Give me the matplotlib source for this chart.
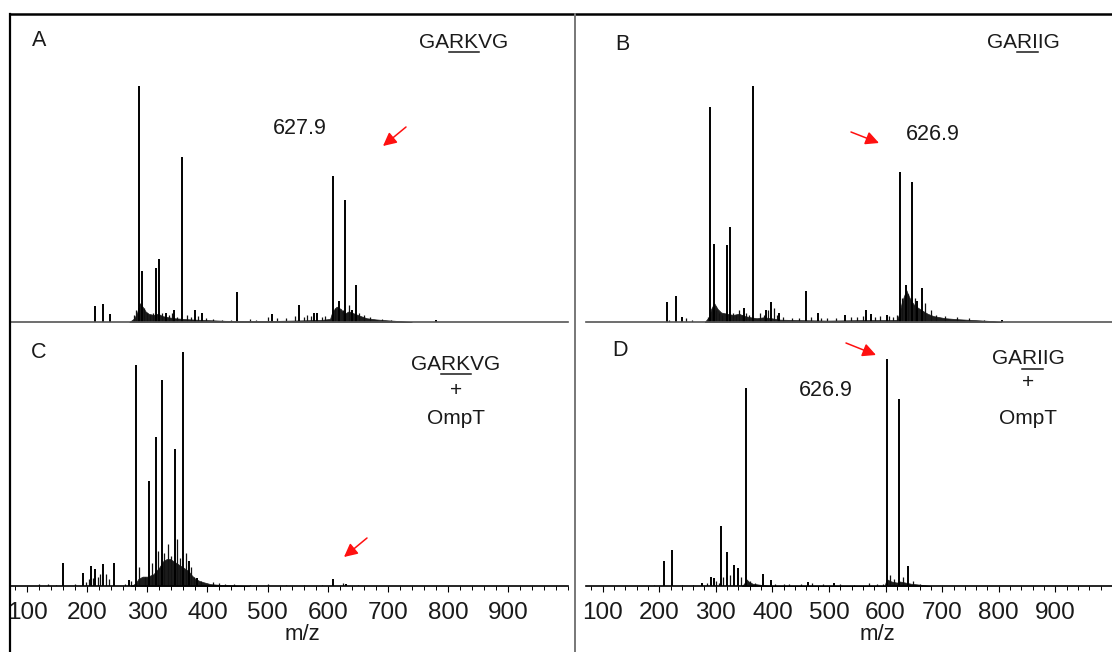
import matplotlib
matplotlib.use('Agg')
import matplotlib.pyplot as plt

W, H = 1112, 652
TXT = '#1a1a1a'

# ---- panel A: GARKVG ----
a_mz = [213.2, 226.9, 237.7, 286.2, 291.6, 313.7, 319.7, 331.7, 343.6, 358.0,
        379.5, 391.5, 448.4, 508.2, 551.9, 577.0, 583.0, 608.1, 618.9, 629.7,
        639.9, 646.4, 780.5]
a_int = [6.8, 7.6, 3.4, 100, 21.6, 22.9, 26.9, 3.8, 5.0, 69.7,
         5.0, 4.0, 12.7, 3.4, 7.2, 4.0, 4.0, 62.0, 8.9, 51.9,
         5.0, 15.8, 1.0]
a_minor_mz = [277, 281, 295, 299, 305, 309, 325, 336, 341, 350, 366, 372, 385, 398,
              410, 425, 440, 470, 480, 500, 515, 530, 545, 560, 565, 572, 590, 596,
              612, 625, 635, 652, 660, 670, 690, 705]
a_minor_int = [3, 5, 6, 4, 3, 4, 4, 3, 4, 2, 3, 2, 2.5, 1.5,
               1.2, 1, 1, 1.2, 0.8, 2, 1.5, 1.5, 2.5, 2, 3, 2.5, 2, 2.5,
               6, 5, 7, 4, 3, 2, 1.2, 1]
a_env_mz = [270, 278, 283, 287, 292, 297, 302, 310, 318, 325, 335, 345, 355, 365,
            380, 400, 430, 470, 520, 560, 590, 604, 608, 615, 622, 628, 635, 645,
            655, 665, 680, 700, 720, 740]
a_env_int = [0, 1.5, 4, 8, 6.5, 4.5, 3.5, 3, 3.5, 2.5, 2, 1.6, 1.4, 1.2,
             1, 0.8, 0.5, 0.4, 0.5, 0.7, 0.9, 1.3, 4.5, 6.5, 5.5, 3.5, 4.5, 3.5,
             2.5, 1.6, 1.1, 0.7, 0.4, 0]

# ---- panel B: GARIIG ----
b_mz = [208.2, 222.7, 233.1, 281.8, 287.0, 309.0, 315.3, 338.5, 354.1, 376.1,
        384.8, 398.1, 444.4, 463.5, 510.4, 545.2, 554.4, 581.6, 603.0, 613.5,
        623.9, 632.6, 640.7, 775.5]
b_int = [8.5, 10.9, 2.0, 91.2, 33.2, 32.8, 40.3, 6.0, 100, 5.0,
         8.5, 4.0, 13.0, 4.0, 3.0, 5.0, 3.4, 3.0, 63.6, 15.6,
         59.4, 9.0, 14.6, 1.0]
b_minor_mz = [212, 240, 250, 278, 284, 292, 297, 302, 320, 325, 330, 335, 342, 347,
              366, 372, 380, 390, 395, 405, 420, 432, 452, 470, 480, 495, 520, 530,
              540, 560, 570, 585, 592, 598, 607, 617, 628, 646, 655, 665, 680, 700,
              720, 745]
b_minor_int = [1, 1.5, 1, 2, 6, 5, 4, 3, 4, 3, 5, 3, 4, 3,
               4, 3, 5, 6, 3, 2, 1.5, 1.5, 2, 1.5, 1.5, 1.5, 2, 2,
               2.5, 2, 2.5, 2.5, 2, 3, 10, 12, 10, 8, 5, 3, 2.5, 2,
               1.5, 1]
b_env_mz = [272, 279, 283, 288, 294, 300, 310, 320, 330, 340, 350, 360, 372, 385,
            400, 430, 480, 540, 580, 598, 602, 606, 610, 614, 618, 622, 628, 634,
            640, 650, 660, 680, 700, 730, 760, 775]
b_env_int = [0, 2, 5.5, 8, 5.5, 4, 3.5, 3, 3.5, 2.5, 2, 1.6, 2, 1.6,
             1, 0.8, 0.6, 0.8, 0.8, 0.9, 3.5, 8, 11, 13.5, 11, 9, 7, 6,
             5, 3.5, 2.5, 1.6, 1.2, 0.8, 0.4, 0]

# ---- panel C: GARKVG + OmpT ----
c_mz = [159.3, 192.8, 206.0, 213.2, 226.9, 244.9, 268.8, 280.8, 302.9, 314.9,
        323.9, 345.4, 358.6, 368.8, 382.5, 608.1, 630.9]
c_int = [10.0, 5.7, 8.5, 7.1, 9.2, 10.0, 2.6, 94.3, 44.8, 63.7,
         87.9, 58.6, 100, 10.7, 3.4, 3.1, 1.0]
c_minor_mz = [120, 135, 148, 180, 198, 203, 210, 218, 222, 231, 236, 262, 272, 286,
              296, 308, 318, 328, 335, 340, 349, 354, 364, 372, 377, 390, 410, 420,
              430, 445, 470, 500, 530, 560, 590, 625, 650]
c_minor_int = [0.8, 0.8, 0.6, 0.8, 1.5, 3, 3.5, 4, 5, 5, 3, 1, 2, 8,
               4, 10, 15, 14, 18, 13, 20, 12, 14, 8, 4, 2, 1.5, 1.2,
               1, 0.8, 0.6, 0.8, 0.6, 0.5, 0.5, 1.2, 0.5]
c_env_mz = [272, 280, 285, 292, 300, 310, 320, 326, 332, 338, 344, 350, 356, 362,
            368, 374, 380, 388, 395, 405, 420, 440, 470]
c_env_int = [0, 1, 3, 4, 4, 5, 8, 10.5, 11.5, 11.5, 10.5, 9.5, 8.5, 7.5,
             6.5, 4.5, 3, 2, 1.5, 0.8, 0.5, 0.3, 0]

# ---- panel D: GARIIG + OmpT ----
d_mz = [208.2, 222.7, 274.8, 291.0, 296.8, 309.6, 319.4, 332.7, 339.7, 353.0,
        383.7, 398.1, 463.0, 509.3, 601.9, 623.9, 639.5]
d_int = [11.2, 15.9, 1.2, 4.1, 3.4, 26.6, 15.1, 9.3, 7.8, 87.2,
         5.3, 2.6, 1.9, 1.2, 100, 82.4, 8.8]
d_minor_mz = [190, 240, 260, 285, 300, 305, 313, 325, 345, 360, 370, 405, 420, 430,
              450, 470, 490, 520, 545, 570, 585, 596, 607, 615, 630, 648, 660]
d_minor_int = [0.5, 0.5, 0.6, 1.5, 2, 1.5, 4, 5, 4, 2, 1.5, 1, 0.8, 1,
               0.8, 1.2, 0.8, 1, 0.6, 1.2, 0.8, 1, 5, 3, 4, 2, 1]
d_env_mz = [346, 350, 354, 358, 365, 380, 400, 598, 602, 610, 620, 625, 635, 645,
            660, 680]
d_env_int = [0, 1, 3, 2, 1, 0.5, 0, 0, 3, 2, 1.5, 2, 1.5, 1,
             0.6, 0]

panels = {
    'A': (a_mz, a_int, a_minor_mz, a_minor_int, a_env_mz, a_env_int),
    'B': (b_mz, b_int, b_minor_mz, b_minor_int, b_env_mz, b_env_int),
    'C': (c_mz, c_int, c_minor_mz, c_minor_int, c_env_mz, c_env_int),
    'D': (d_mz, d_int, d_minor_mz, d_minor_int, d_env_mz, d_env_int),
}

plt.rcParams['font.family'] = ['Liberation Sans', 'DejaVu Sans']

fig = plt.figure(figsize=(W / 100, H / 100), dpi=100)


def px_axes(x0, y_top, x1, y_bot):
    return fig.add_axes([x0 / W, 1 - y_bot / H, (x1 - x0) / W, (y_bot - y_top) / H])


def draw_spectrum(ax, key, xlim, ytop, bottom_axis):
    mz, inten, mmz, mint, emz, eint = panels[key]
    ax.fill_between(emz, 0, eint, color='#1c1c1c', lw=0.5)
    ax.vlines(mmz, 0, mint, color='#111111', lw=0.9)
    ax.vlines(mz, 0, inten, color='black', lw=1.4)
    ax.set_xlim(*xlim)
    ax.set_ylim(0, ytop)
    ax.set_yticks([])
    for s in ['left', 'right', 'top']:
        ax.spines[s].set_visible(False)
    ax.patch.set_alpha(0)
    if bottom_axis:
        ax.spines['bottom'].set_color('black')
        ax.spines['bottom'].set_linewidth(1.2)
        ax.set_xticks(range(100, 1000, 100))
        ax.set_xticks(range(80, 1001, 20), minor=True)
        ax.tick_params(axis='x', which='major', direction='out', length=4.5,
                       width=0.8, labelsize=17.5, pad=7, labelcolor=TXT)
        ax.tick_params(axis='x', which='minor', direction='out', length=3, width=0.7)
    else:
        ax.spines['bottom'].set_color('#555555')
        ax.spines['bottom'].set_linewidth(1.2)
        ax.set_xticks([])


left_lim = (71.4, 1000)
right_lim = (70.7, 962.8)

axA = px_axes(10, 14, 568, 322)
draw_spectrum(axA, 'A', left_lim, 130.5, False)
axB = px_axes(586, 14, 1112, 322)
draw_spectrum(axB, 'B', right_lim, 130.5, False)
axC = px_axes(10, 322, 568, 586)
draw_spectrum(axC, 'C', left_lim, 112.7, True)
axD = px_axes(586, 322, 1112, 586)
draw_spectrum(axD, 'D', right_lim, 116.5, True)

# overlay in pixel coordinates for frame, labels and arrows
ov = fig.add_axes([0, 0, 1, 1], zorder=5)
ov.set_xlim(0, W)
ov.set_ylim(H, 0)
ov.axis('off')
ov.patch.set_alpha(0)

ov.plot([9, W], [14, 14], color='black', lw=1.8, solid_capstyle='butt')
ov.plot([9.5, 9.5], [14, H], color='black', lw=1.6)
ov.plot([575, 575], [14, H], color='#777777', lw=1.4)

for letter, x, y in [('A', 39, 40), ('B', 622, 45), ('C', 39, 353), ('D', 620, 350)]:
    ov.text(x, y, letter, ha='center', va='center', fontsize=15.5, color=TXT)

renderer = fig.canvas.get_renderer()


def underlined(x, y, text, i0, i1, size=15):
    t = ov.text(x, y, text, ha='center', va='center', fontsize=size, color=TXT)
    fp = t.get_fontproperties()
    full = renderer.get_text_width_height_descent(text, fp, ismath=False)[0]
    w0 = renderer.get_text_width_height_descent(text[:i0], fp, ismath=False)[0]
    w1 = renderer.get_text_width_height_descent(text[:i1], fp, ismath=False)[0]
    left = x - full / 2
    ov.plot([left + w0, left + w1], [y + 9.5, y + 9.5], color=TXT, lw=1.1)


underlined(464, 42, 'GARKVG', 2, 4)
underlined(1023, 42, 'GARIIG', 2, 4)
underlined(456, 364, 'GARKVG', 2, 4)
ov.text(456, 390, '+', ha='center', va='center', fontsize=15, color=TXT)
ov.text(456, 418, 'OmpT', ha='center', va='center', fontsize=15, color=TXT)
underlined(1028, 359, 'GARIIG', 2, 4)
ov.text(1028, 383, '+', ha='center', va='center', fontsize=15, color=TXT)
ov.text(1028, 418, 'OmpT', ha='center', va='center', fontsize=15, color=TXT)

ov.text(300, 128, '627.9', ha='center', va='center', fontsize=15.5, color=TXT)
ov.text(933, 135, '626.9', ha='center', va='center', fontsize=15.5, color=TXT)
ov.text(826, 391, '626.9', ha='center', va='center', fontsize=15.5, color=TXT)

ov.text(302, 634, 'm/z', ha='center', va='center', fontsize=16, color=TXT)
ov.text(877, 634, 'm/z', ha='center', va='center', fontsize=16, color=TXT)

arrows = [((406, 127), (383, 146)), ((851, 132), (879, 143)),
          ((367, 538), (344, 557)), ((846, 343), (876, 355))]
for tail, head in arrows:
    ov.annotate('', xy=head, xytext=tail,
                arrowprops=dict(arrowstyle='-|>,head_length=0.8,head_width=0.4',
                                color='#ff1010', lw=1.1, shrinkA=0, shrinkB=0))

fig.savefig('out.png', dpi=100)
